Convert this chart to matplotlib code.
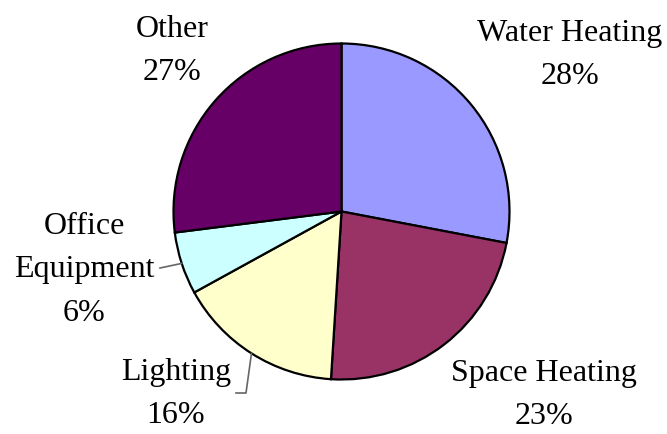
import numpy as np
import matplotlib
matplotlib.use('Agg')
import matplotlib.pyplot as plt
from matplotlib import rcParams

rcParams['font.family'] = 'Liberation Serif'
rcParams['font.size'] = 23

# Energy end use shares (%)
categories = ['Water Heating', 'Space Heating', 'Lighting', 'Office\nEquipment', 'Other']
shares = [28, 23, 16, 6, 27]
colors = ['#9999FF', '#993366', '#FFFFCC', '#CCFFFF', '#660066']

# label centres in pixel space (x from left, y from top)
label_pos = [(570, 55), (544, 395), (176, 394), (84, 270), (172, 51)]

W, H = 667, 434
cx, cy, r = 341.5, 211.5, 168

fig = plt.figure(figsize=(W / 100, H / 100), dpi=100)
ax = fig.add_axes([0, 0, 1, 1])

wedges, _ = ax.pie(shares, colors=colors, startangle=90, counterclock=False,
                   center=(cx, H - cy), radius=r,
                   wedgeprops=dict(edgecolor='black', linewidth=1.6))
ax.set_aspect('auto')
ax.set_xlim(0, W)
ax.set_ylim(0, H)
ax.axis('off')

for cat, val, (lx, ly) in zip(categories, shares, label_pos):
    ax.text(lx, H - ly, f'{cat}\n{val}%', ha='center', va='center',
            linespacing=1.68, color='black')

# leader lines for the two small slices on the left
def edge_point(w):
    ang = np.deg2rad((w.theta1 + w.theta2) / 2)
    return cx + r * np.cos(ang), (H - cy) + r * np.sin(ang)

ex, ey = edge_point(wedges[3])
ax.plot([ex, 160], [ey, H - 268], color='#666666', lw=1.2)
ex, ey = edge_point(wedges[2])
ax.plot([ex, 246, 236], [ey, H - 393, H - 393], color='#666666', lw=1.2)

fig.savefig('out.png', dpi=100)
